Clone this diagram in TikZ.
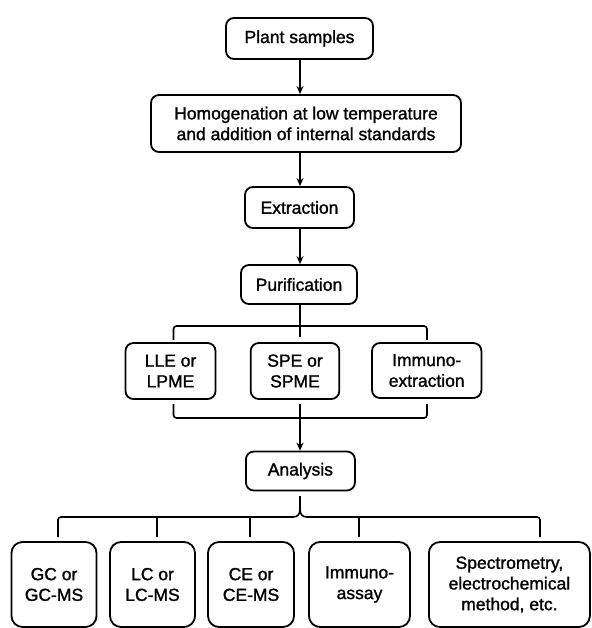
\documentclass[tikz,border=0pt]{standalone}
\usepackage{fontspec}
\setmainfont[FakeBold=1.3]{Liberation Sans}
\usetikzlibrary{arrows.meta}
\begin{document}
\begin{tikzpicture}[x=1pt,y=-1pt,
 box/.style={draw, line width=1.8pt, rounded corners=8pt, align=center, inner sep=0pt, font=\fontsize{17.5}{20.7}\selectfont},
 bigbox/.style={box, rounded corners=11pt},
 link/.style={line width=1.6pt},
 arr/.style={link, -{Stealth[length=8pt,width=7pt]}}]
\useasboundingbox (0,0) rectangle (591,628);
% main chain
\node[box, minimum width=147pt, minimum height=41pt] (plant) at (299.5,38.5) {Plant samples};
\node[box, minimum width=310pt, minimum height=57pt] (homog) at (306,123.5) {Homogenation at low temperature\\and addition of internal standards};
\node[box, minimum width=109pt, minimum height=41pt] (extr) at (299.5,207.5) {Extraction};
\node[box, minimum width=116pt, minimum height=39pt] (purif) at (299,284.5) {Purification};
% purification methods
\node[box, minimum width=90pt, minimum height=56pt] (lle) at (170.5,371) {LLE or\\LPME};
\node[box, minimum width=88.6pt, minimum height=56pt] (spe) at (295,371) {SPE or\\SPME};
\node[box, minimum width=109.4pt, minimum height=55pt] (immex) at (426.7,370.5) {Immuno-\\extraction};
\node[box, minimum width=109pt, minimum height=39pt] (anal) at (300.4,471) {Analysis};
% analysis methods
\node[bigbox, minimum width=85pt, minimum height=85pt] (gc) at (54,584.5) {GC or\\GC-MS};
\node[bigbox, minimum width=85pt, minimum height=85pt] (lc) at (152.5,584.5) {LC or\\LC-MS};
\node[bigbox, minimum width=86pt, minimum height=85pt] (ce) at (251,584.5) {CE or\\CE-MS};
\node[bigbox, minimum width=101pt, minimum height=85pt] (ia) at (359.5,584.5) {Immuno-\\assay};
\node[bigbox, minimum width=161pt, minimum height=85pt] (spec) at (509.4,584.5) {Spectrometry,\\electrochemical\\method, etc.};
% arrows of main chain
\draw[arr] (300,0 |- plant.south) -- (300,0 |- homog.north);
\draw[arr] (300,0 |- homog.south) -- (300,0 |- extr.north);
\draw[arr] (300,0 |- extr.south) -- (300,0 |- purif.north);
% top bracket
\coordinate (tb) at (300,337);
\draw[link] (300,0 |- purif.south) -- (tb);
\draw[link, rounded corners=3pt] (173.5,340) -- (173.5,326) -- (427,326) -- (427,340);
% lower bracket
\coordinate (lb) at (300,404);
\draw[link, rounded corners=3pt] (173.5,404) -- (173.5,418) -- (427,418) -- (427,404);
\draw[arr] (lb) -- (300,0 |- anal.north);
% analysis bracket
\coordinate (ab) at (300,509);
\draw[link] (300,0 |- anal.south) ++(0,5) -- (ab);
\draw[link, rounded corners=3pt] (58,537) -- (58,517) -- (293,517);
\draw[link] (293,517) .. controls (298,517) and (300,514) .. (ab) .. controls (300,514) and (302,517) .. (307,517);
\draw[link, rounded corners=3pt] (307,517) -- (540,517) -- (540,537);
\foreach \x in {157,250,359} \draw[link] (\x,517) -- (\x,537);
\end{tikzpicture}
\end{document}
